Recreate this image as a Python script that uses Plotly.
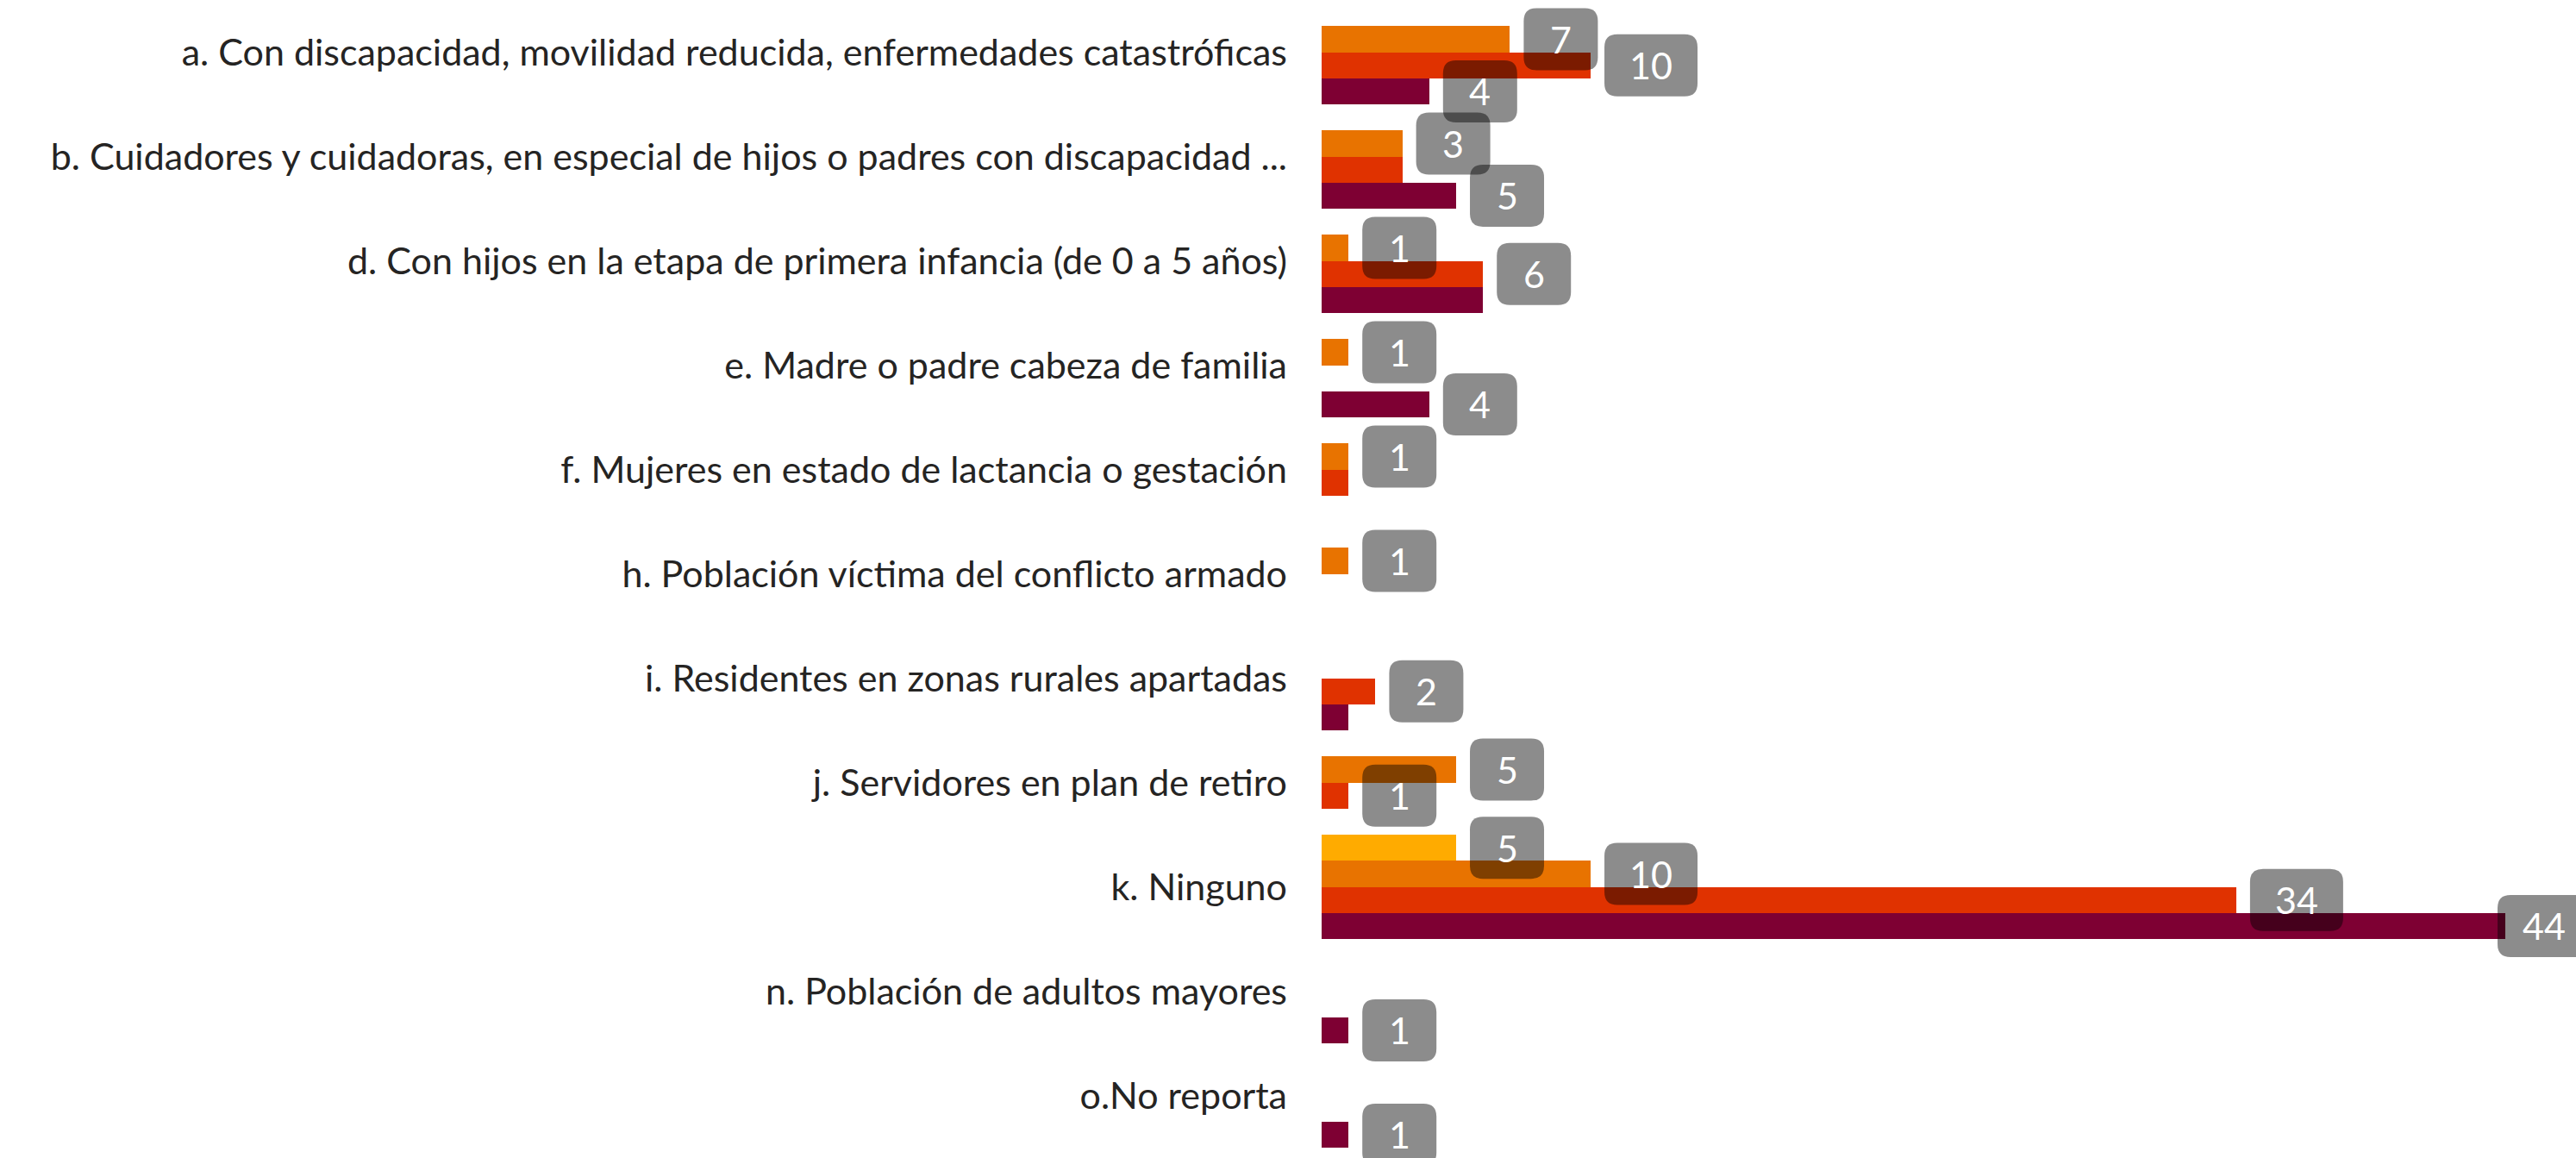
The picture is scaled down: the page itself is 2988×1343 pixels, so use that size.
import plotly.graph_objects as go

# Categories (top to bottom) and counts per group
categories = [
    "a. Con discapacidad, movilidad reducida, enfermedades catastróficas",
    "b. Cuidadores y cuidadoras, en especial de hijos o padres con discapacidad ...",
    "d. Con hijos en la etapa de primera infancia (de 0 a 5 años)",
    "e. Madre o padre cabeza de familia",
    "f. Mujeres en estado de lactancia o gestación",
    "h. Población víctima del conflicto armado",
    "i. Residentes en zonas rurales apartadas",
    "j. Servidores en plan de retiro",
    "k. Ninguno",
    "n. Población de adultos mayores",
    "o.No reporta",
]
series_names = ["Grupo 1", "Grupo 2", "Grupo 3", "Grupo 4"]
values_g1 = [0, 0, 0, 0, 0, 0, 0, 0, 5, 0, 0]
values_g2 = [7, 3, 1, 1, 1, 1, 0, 5, 10, 0, 0]
values_g3 = [10, 3, 6, 0, 1, 0, 2, 1, 34, 0, 0]
values_g4 = [4, 5, 6, 4, 0, 0, 1, 0, 44, 1, 1]
series_values = [values_g1, values_g2, values_g3, values_g4]
series_colors = ["#FFAB00", "#E87300", "#E03200", "#7E0033"]

# Figure geometry
W, H = 2988, 1343
M_L, M_R, M_T, M_B = 1533, 0, 0, 0
X_MAX = 46.63
CAT_PX = 121.0  # height of one category band
plot_w = W - M_L - M_R
plot_h = H - M_T - M_B
px_per_x = plot_w / X_MAX
px_per_cat = CAT_PX
y_bottom = -0.5 + plot_h / CAT_PX
n_series = len(series_values)
slot = 1.0 / n_series

FONT = "Segoe UI, Lato, sans-serif"
LABEL_SIZE = 43

fig = go.Figure()
for name, vals, color in zip(series_names, series_values, series_colors):
    fig.add_trace(go.Bar(
        y=categories, x=vals, name=name, orientation="h",
        marker=dict(color=color, line=dict(width=0)),
        hoverinfo="x+y",
    ))


def rounded_box_path(x0, x1, y0, y1, r):
    return (f"M {x0 + r},{y0} L {x1 - r},{y0} Q {x1},{y0} {x1},{y0 + r} "
            f"L {x1},{y1 - r} Q {x1},{y1} {x1 - r},{y1} L {x0 + r},{y1} "
            f"Q {x0},{y1} {x0},{y1 - r} L {x0},{y0 + r} Q {x0},{y0} {x0 + r},{y0} Z")


# Value labels in rounded boxes; labels that would mostly cover an earlier one are dropped
BOX_H = 72
GAP = 16
placed = []
shapes, annotations = [], []
for ci in range(len(categories)):
    for si, vals in enumerate(series_values):
        v = vals[ci]
        if v == 0:
            continue
        text = str(v)
        box_w = 64 + 22 * len(text)
        bar_px = v * px_per_x
        left = min(bar_px + GAP, plot_w - 91)
        y_val = ci - 0.5 + slot * (si + 0.5)
        cy = y_val * px_per_cat
        box = (left, left + box_w, cy - BOX_H / 2, cy + BOX_H / 2)
        skip = False
        for b in placed:
            ox = max(0, min(box[1], b[1]) - max(box[0], b[0]))
            oy = max(0, min(box[3], b[3]) - max(box[2], b[2]))
            if ox * oy > 0.3 * box_w * BOX_H:
                skip = True
                break
        if skip:
            continue
        placed.append(box)
        rel0 = left - bar_px
        shapes.append(dict(
            type="path", xref="x", yref="y",
            xsizemode="pixel", ysizemode="pixel",
            xanchor=v, yanchor=y_val,
            path=rounded_box_path(rel0, rel0 + box_w, -BOX_H / 2, BOX_H / 2, 15),
            fillcolor="rgba(0,0,0,0.45)", line=dict(width=0), layer="above",
        ))
        annotations.append(dict(
            x=v, y=y_val, xref="x", yref="y", text=text, showarrow=False,
            xshift=rel0 + box_w / 2, xanchor="center", yanchor="middle",
            font=dict(family=FONT, size=LABEL_SIZE, color="white"),
        ))

fig.update_layout(
    width=W, height=H,
    margin=dict(l=M_L, r=M_R, t=M_T, b=M_B, pad=0),
    paper_bgcolor="white", plot_bgcolor="white",
    barmode="group", bargap=0, bargroupgap=0,
    showlegend=False,
    shapes=shapes, annotations=annotations,
    xaxis=dict(range=[0, X_MAX], visible=False, fixedrange=True),
    yaxis=dict(
        type="category", categoryorder="array", categoryarray=categories,
        range=[y_bottom, -0.5],
        showgrid=False, zeroline=False, showline=False, ticks="",
        ticklabelstandoff=39,
        tickfont=dict(family=FONT, size=LABEL_SIZE, color="#252423"),
    ),
)

fig.write_html("out.html")
